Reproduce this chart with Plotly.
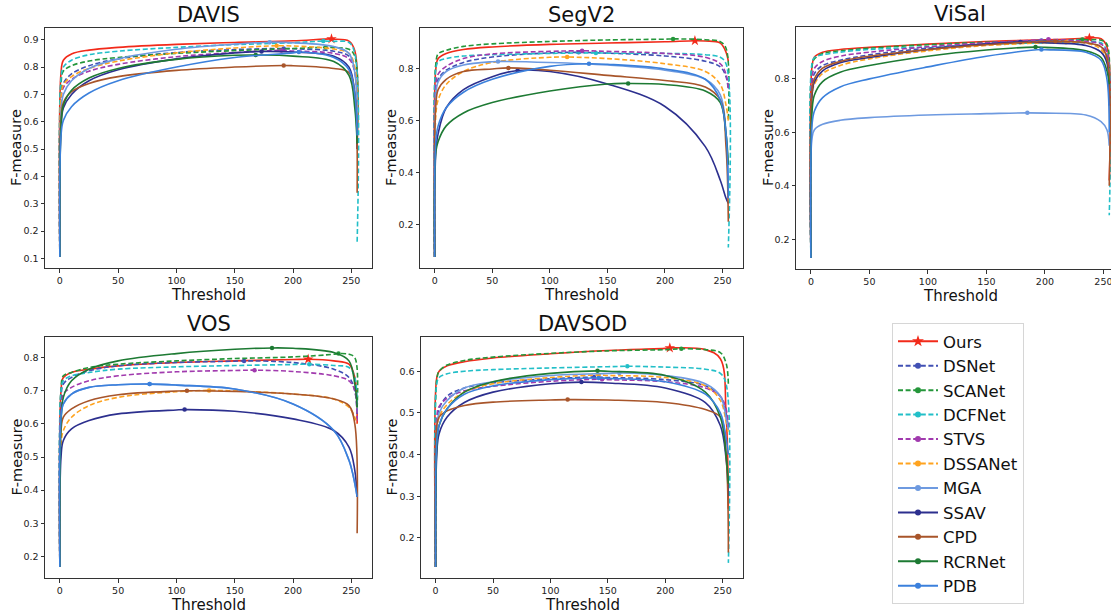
import plotly.graph_objects as go

# F-measure sampled at these binarisation thresholds
thresholds = [0, 1, 3, 10, 25, 50, 100, 150, 200, 235, 248, 253, 255]

methods = ["Ours", "DSNet", "SCANet", "DCFNet", "STVS", "DSSANet",
           "MGA", "SSAV", "CPD", "RCRNet", "PDB"]

colors = {
    "Ours": "#f22a1a", "DSNet": "#4150b4", "SCANet": "#24963a",
    "DCFNet": "#22bfc8", "STVS": "#a13aae", "DSSANet": "#ffa31f",
    "MGA": "#6e9ae0", "SSAV": "#2c2f8e", "CPD": "#a8552a",
    "RCRNet": "#1d7a33", "PDB": "#3b80dc",
}
dashed = {"DSNet", "SCANet", "DCFNet", "STVS", "DSSANet"}

# ---- DAVIS ----
davis = {
    "Ours":    [0.105, 0.78, 0.825, 0.848, 0.862, 0.872, 0.883, 0.890, 0.896, 0.902, 0.895, 0.86, 0.50],
    "DSNet":   [0.105, 0.69, 0.740, 0.775, 0.805, 0.830, 0.853, 0.864, 0.867, 0.858, 0.840, 0.79, 0.52],
    "SCANet":  [0.105, 0.74, 0.785, 0.805, 0.822, 0.835, 0.850, 0.860, 0.868, 0.871, 0.865, 0.84, 0.55],
    "DCFNet":  [0.105, 0.76, 0.800, 0.825, 0.845, 0.858, 0.872, 0.882, 0.889, 0.894, 0.890, 0.85, 0.16],
    "STVS":    [0.105, 0.68, 0.725, 0.755, 0.785, 0.810, 0.838, 0.853, 0.859, 0.850, 0.830, 0.78, 0.60],
    "DSSANet": [0.105, 0.69, 0.735, 0.765, 0.795, 0.822, 0.852, 0.870, 0.877, 0.866, 0.850, 0.80, 0.55],
    "MGA":     [0.105, 0.64, 0.700, 0.750, 0.795, 0.830, 0.865, 0.884, 0.889, 0.875, 0.850, 0.78, 0.60],
    "SSAV":    [0.105, 0.58, 0.650, 0.700, 0.750, 0.790, 0.830, 0.852, 0.855, 0.840, 0.800, 0.70, 0.50],
    "CPD":     [0.105, 0.60, 0.670, 0.710, 0.740, 0.765, 0.788, 0.800, 0.805, 0.795, 0.780, 0.70, 0.34],
    "RCRNet":  [0.105, 0.58, 0.660, 0.715, 0.760, 0.795, 0.828, 0.843, 0.840, 0.820, 0.770, 0.65, 0.52],
    "PDB":     [0.105, 0.55, 0.605, 0.655, 0.705, 0.750, 0.800, 0.835, 0.852, 0.835, 0.790, 0.70, 0.55],
}
davis_best = {
    "Ours": (233, 0.903), "DSNet": (192, 0.868), "SCANet": (228, 0.872),
    "DCFNet": (226, 0.895), "STVS": (190, 0.861), "DSSANet": (186, 0.878),
    "MGA": (180, 0.891), "SSAV": (173, 0.857), "CPD": (192, 0.806),
    "RCRNet": (168, 0.844), "PDB": (205, 0.855),
}

# ---- SegV2 ----
segv2 = {
    "Ours":    [0.073, 0.80, 0.840, 0.860, 0.875, 0.885, 0.895, 0.900, 0.905, 0.908, 0.900, 0.865, 0.83],
    "DSNet":   [0.073, 0.72, 0.760, 0.795, 0.825, 0.846, 0.862, 0.861, 0.850, 0.830, 0.808, 0.770, 0.72],
    "SCANet":  [0.073, 0.82, 0.858, 0.872, 0.887, 0.897, 0.906, 0.912, 0.915, 0.913, 0.905, 0.880, 0.60],
    "DCFNet":  [0.073, 0.80, 0.828, 0.840, 0.850, 0.855, 0.860, 0.861, 0.860, 0.855, 0.845, 0.820, 0.11],
    "STVS":    [0.073, 0.74, 0.780, 0.810, 0.840, 0.858, 0.868, 0.868, 0.860, 0.845, 0.820, 0.780, 0.72],
    "DSSANet": [0.073, 0.62, 0.680, 0.740, 0.790, 0.825, 0.845, 0.840, 0.820, 0.790, 0.740, 0.660, 0.60],
    "MGA":     [0.073, 0.70, 0.750, 0.790, 0.815, 0.828, 0.825, 0.815, 0.795, 0.760, 0.700, 0.550, 0.35],
    "SSAV":    [0.073, 0.48, 0.550, 0.650, 0.720, 0.770, 0.790, 0.742, 0.655, 0.500, 0.370, 0.300, 0.28],
    "CPD":     [0.073, 0.66, 0.720, 0.760, 0.790, 0.800, 0.795, 0.775, 0.755, 0.730, 0.680, 0.500, 0.21],
    "RCRNet":  [0.073, 0.48, 0.520, 0.580, 0.630, 0.670, 0.715, 0.742, 0.740, 0.715, 0.670, 0.550, 0.43],
    "PDB":     [0.073, 0.52, 0.580, 0.650, 0.710, 0.760, 0.810, 0.818, 0.800, 0.760, 0.680, 0.550, 0.30],
}
segv2_best = {
    "Ours": (226, 0.909), "DSNet": (125, 0.864), "SCANet": (207, 0.916),
    "DCFNet": (140, 0.862), "STVS": (128, 0.870), "DSSANet": (115, 0.846),
    "MGA": (55, 0.829), "SSAV": (72, 0.794), "CPD": (64, 0.804),
    "RCRNet": (168, 0.744), "PDB": (134, 0.820),
}

# ---- ViSal ----
visal = {
    "Ours":    [0.13, 0.85, 0.882, 0.900, 0.910, 0.918, 0.930, 0.940, 0.946, 0.952, 0.950, 0.920, 0.42],
    "DSNet":   [0.13, 0.78, 0.820, 0.850, 0.870, 0.890, 0.915, 0.932, 0.943, 0.935, 0.920, 0.890, 0.70],
    "SCANet":  [0.13, 0.85, 0.875, 0.895, 0.905, 0.915, 0.928, 0.937, 0.943, 0.946, 0.945, 0.930, 0.78],
    "DCFNet":  [0.13, 0.86, 0.880, 0.890, 0.900, 0.910, 0.920, 0.930, 0.935, 0.939, 0.935, 0.900, 0.29],
    "STVS":    [0.13, 0.80, 0.840, 0.865, 0.885, 0.900, 0.920, 0.935, 0.947, 0.940, 0.930, 0.900, 0.70],
    "DSSANet": [0.13, 0.74, 0.780, 0.820, 0.850, 0.875, 0.905, 0.925, 0.935, 0.935, 0.910, 0.870, 0.75],
    "MGA":     [0.13, 0.58, 0.610, 0.630, 0.645, 0.655, 0.665, 0.670, 0.672, 0.665, 0.640, 0.610, 0.55],
    "SSAV":    [0.13, 0.74, 0.790, 0.830, 0.860, 0.880, 0.910, 0.930, 0.935, 0.925, 0.900, 0.860, 0.70],
    "CPD":     [0.13, 0.76, 0.800, 0.840, 0.865, 0.885, 0.910, 0.928, 0.940, 0.935, 0.920, 0.880, 0.40],
    "RCRNet":  [0.13, 0.68, 0.740, 0.790, 0.825, 0.850, 0.885, 0.908, 0.918, 0.905, 0.880, 0.830, 0.78],
    "PDB":     [0.13, 0.63, 0.680, 0.730, 0.770, 0.800, 0.845, 0.885, 0.909, 0.900, 0.870, 0.800, 0.60],
}
visal_best = {
    "Ours": (238, 0.953), "DSNet": (197, 0.944), "SCANet": (232, 0.947),
    "DCFNet": (228, 0.940), "STVS": (203, 0.948), "DSSANet": (218, 0.937),
    "MGA": (185, 0.673), "SSAV": (179, 0.938), "CPD": (209, 0.941),
    "RCRNet": (192, 0.919), "PDB": (197, 0.910),
}

# ---- VOS ----
vos = {
    "Ours":    [0.168, 0.70, 0.740, 0.755, 0.765, 0.775, 0.785, 0.790, 0.794, 0.790, 0.780, 0.740, 0.60],
    "DSNet":   [0.168, 0.68, 0.720, 0.740, 0.760, 0.775, 0.785, 0.789, 0.785, 0.765, 0.740, 0.700, 0.62],
    "SCANet":  [0.168, 0.70, 0.745, 0.755, 0.770, 0.780, 0.790, 0.797, 0.802, 0.810, 0.810, 0.800, 0.65],
    "DCFNet":  [0.168, 0.70, 0.730, 0.745, 0.755, 0.765, 0.772, 0.776, 0.779, 0.776, 0.770, 0.740, 0.63],
    "STVS":    [0.168, 0.65, 0.690, 0.710, 0.730, 0.745, 0.757, 0.761, 0.758, 0.745, 0.730, 0.700, 0.60],
    "DSSANet": [0.168, 0.54, 0.580, 0.620, 0.655, 0.680, 0.697, 0.699, 0.690, 0.675, 0.650, 0.620, 0.60],
    "MGA":     [0.168, 0.62, 0.660, 0.690, 0.710, 0.718, 0.717, 0.705, 0.660, 0.580, 0.490, 0.420, 0.38],
    "SSAV":    [0.168, 0.50, 0.550, 0.585, 0.610, 0.630, 0.642, 0.638, 0.615, 0.580, 0.530, 0.460, 0.38],
    "CPD":     [0.168, 0.58, 0.620, 0.645, 0.670, 0.688, 0.699, 0.698, 0.690, 0.675, 0.655, 0.600, 0.27],
    "RCRNet":  [0.168, 0.60, 0.680, 0.730, 0.765, 0.790, 0.812, 0.825, 0.828, 0.815, 0.790, 0.720, 0.65],
    "PDB":     [0.168, 0.62, 0.660, 0.690, 0.710, 0.718, 0.717, 0.705, 0.660, 0.580, 0.490, 0.420, 0.38],
}
vos_best = {
    "Ours": (213, 0.795), "DSNet": (158, 0.790), "SCANet": (239, 0.812),
    "DCFNet": (214, 0.780), "STVS": (167, 0.762), "DSSANet": (128, 0.701),
    "MGA": (77, 0.720), "SSAV": (107, 0.643), "CPD": (109, 0.700),
    "RCRNet": (182, 0.829), "PDB": (77, 0.720),
}

# ---- DAVSOD ----
davsod = {
    "Ours":    [0.13, 0.585, 0.600, 0.613, 0.623, 0.632, 0.642, 0.650, 0.655, 0.652, 0.630, 0.500, 0.27],
    "DSNet":   [0.13, 0.470, 0.510, 0.540, 0.560, 0.572, 0.582, 0.585, 0.580, 0.565, 0.540, 0.500, 0.46],
    "SCANet":  [0.13, 0.580, 0.600, 0.615, 0.626, 0.634, 0.643, 0.649, 0.652, 0.652, 0.645, 0.620, 0.57],
    "DCFNet":  [0.13, 0.570, 0.585, 0.594, 0.600, 0.604, 0.608, 0.611, 0.610, 0.605, 0.595, 0.570, 0.14],
    "STVS":    [0.13, 0.490, 0.515, 0.535, 0.553, 0.564, 0.576, 0.580, 0.575, 0.560, 0.540, 0.510, 0.46],
    "DSSANet": [0.13, 0.450, 0.490, 0.520, 0.550, 0.570, 0.585, 0.590, 0.585, 0.565, 0.530, 0.480, 0.45],
    "MGA":     [0.13, 0.460, 0.500, 0.530, 0.560, 0.575, 0.590, 0.595, 0.590, 0.570, 0.540, 0.490, 0.46],
    "SSAV":    [0.13, 0.400, 0.450, 0.490, 0.525, 0.550, 0.570, 0.572, 0.560, 0.525, 0.470, 0.390, 0.30],
    "CPD":     [0.13, 0.470, 0.490, 0.505, 0.518, 0.526, 0.531, 0.531, 0.525, 0.508, 0.490, 0.400, 0.165],
    "RCRNet":  [0.13, 0.420, 0.470, 0.510, 0.550, 0.575, 0.595, 0.600, 0.590, 0.550, 0.490, 0.400, 0.33],
    "PDB":     [0.13, 0.430, 0.470, 0.510, 0.545, 0.565, 0.580, 0.583, 0.575, 0.545, 0.500, 0.440, 0.40],
}
davsod_best = {
    "Ours": (204, 0.656), "DSNet": (138, 0.586), "SCANet": (214, 0.654),
    "DCFNet": (167, 0.612), "STVS": (145, 0.581), "DSSANet": (142, 0.591),
    "MGA": (160, 0.596), "SSAV": (127, 0.574), "CPD": (115, 0.532),
    "RCRNet": (141, 0.601), "PDB": (142, 0.584),
}

W, H = 1111, 614
FONT = "DejaVu Sans"
AX_COLOR = "#333333"

# panel: title, curves, best points, y tick step, pixel box (left, right, top, bottom), x-limit right
panels = [
    ("DAVIS", davis, davis_best, 0.1, (45, 372, 28, 268), 267.75),
    ("SegV2", segv2, segv2_best, 0.2, (420, 743, 28, 268), 267.75),
    ("ViSal", visal, visal_best, 0.2, (796, 1111, 27, 269), 256.5),
    ("VOS", vos, vos_best, 0.1, (45, 372, 337, 578), 267.75),
    ("DAVSOD", davsod, davsod_best, 0.1, (421, 743, 337, 578), 267.75),
]
# horizontal centres of the labels (ViSal frame runs past the page edge)
label_centre_x = [208.5, 581.5, 960, 208.5, 582]
ylabel_x = [16, 391, 768, 16, 391]


def with_best(ts, vs, best):
    bt, bv = best
    pts = sorted([(t, v) for t, v in zip(ts, vs) if t != bt] + [(bt, bv)])
    return [p[0] for p in pts], [p[1] for p in pts]


fig = go.Figure()
annotations = []
layout_axes = {}

for i, (title, curves, best, ystep, box, xr) in enumerate(panels):
    n = i + 1
    xa = "x" if n == 1 else f"x{n}"
    ya = "y" if n == 1 else f"y{n}"
    left, right, top, bottom = box

    all_v = [v for m in methods for v in curves[m]] + [best[m][1] for m in methods]
    vmin, vmax = min(all_v), max(all_v)
    pad = 0.05 * (vmax - vmin)

    for m in methods:
        xs, ys = with_best(thresholds, curves[m], best[m])
        fig.add_trace(go.Scatter(
            x=xs, y=ys, mode="lines", xaxis=xa, yaxis=ya, showlegend=False,
            line=dict(color=colors[m], width=1.6, shape="spline", smoothing=1.0,
                      dash="5px,2.6px" if m in dashed else "solid"),
            hoverinfo="skip"))
        fig.add_trace(go.Scatter(
            x=[best[m][0]], y=[best[m][1]], mode="markers", xaxis=xa, yaxis=ya,
            showlegend=False,
            marker=dict(color=colors[m], size=8 if m == "Ours" else 4.5,
                        symbol="star" if m == "Ours" else "circle", line=dict(width=0))))

    ticks = []
    k = 1
    while k * ystep <= vmax + pad + 1e-9:
        if k * ystep >= vmin - pad:
            ticks.append(round(k * ystep, 1))
        k += 1

    axis_common = dict(showgrid=False, zeroline=False, showline=True,
                       linecolor=AX_COLOR, linewidth=1, ticks="outside", ticklen=3.5,
                       tickwidth=1, tickcolor=AX_COLOR, ticklabeloverflow="allow",
                       tickfont=dict(family=FONT, size=9.5, color="#222222"))
    layout_axes["xaxis" if n == 1 else f"xaxis{n}"] = dict(
        axis_common, domain=[left / W, right / W], range=[-12.75, xr],
        tickvals=[0, 50, 100, 150, 200, 250], mirror=True,
        anchor=ya)
    layout_axes["yaxis" if n == 1 else f"yaxis{n}"] = dict(
        axis_common, domain=[1 - bottom / H, 1 - top / H],
        range=[vmin - pad, vmax + pad], tickvals=ticks,
        ticktext=[f"{t:.1f}" for t in ticks],
        mirror=(title != "ViSal"), anchor=xa)

    cx = label_centre_x[i]
    annotations.append(dict(text=title, x=cx / W, y=1 - (top - 13) / H,
                            xref="paper", yref="paper", showarrow=False,
                            xanchor="center", yanchor="middle",
                            font=dict(family=FONT, size=21, color="#111111")))
    annotations.append(dict(text="Threshold", x=cx / W, y=1 - (bottom + 27) / H,
                            xref="paper", yref="paper", showarrow=False,
                            xanchor="center", yanchor="middle",
                            font=dict(family=FONT, size=15, color="#111111")))
    annotations.append(dict(text="F-measure", x=ylabel_x[i] / W,
                            y=1 - (top + bottom) / 2 / H,
                            xref="paper", yref="paper", showarrow=False, textangle=-90,
                            xanchor="center", yanchor="middle",
                            font=dict(family=FONT, size=14.5, color="#111111")))

# legend entries: line with a marker in the middle
for m in methods:
    fig.add_trace(go.Scatter(
        x=[None], y=[None], mode="lines+markers", name=m,
        line=dict(color=colors[m], width=2, dash="5px,2.6px" if m in dashed else "solid"),
        marker=dict(color=colors[m], size=9 if m == "Ours" else 6,
                    symbol="star" if m == "Ours" else "circle")))

fig.update_layout(
    width=W, height=H, margin=dict(l=0, r=0, t=0, b=0),
    paper_bgcolor="white", plot_bgcolor="white",
    annotations=annotations,
    legend=dict(x=892 / W, y=1 - 323 / H, xanchor="left", yanchor="top",
                bgcolor="white", bordercolor="#d6d6d6", borderwidth=1,
                font=dict(family=FONT, size=16.5, color="#111111"),
                itemwidth=40, tracegroupgap=0),
    **layout_axes,
)

fig.write_html("out.html")
